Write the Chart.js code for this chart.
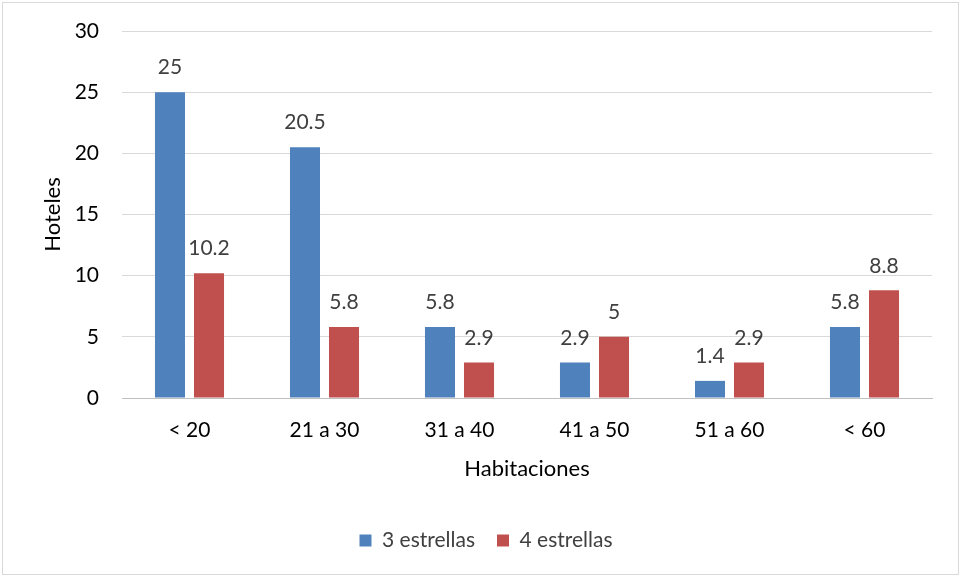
<!DOCTYPE html>
<html>
<head>
<meta charset="utf-8">
<script src="https://cdn.jsdelivr.net/npm/chart.js@4/dist/chart.umd.min.js"></script>
<style>
  html, body { margin: 0; padding: 0; background: #fff; }
  #wrap { position: relative; width: 962px; height: 577px; }
  #frame { position: absolute; left: 2px; top: 2px; width: 955px; height: 571px; border: 1px solid #d9d9d9; pointer-events: none; }
  canvas { position: absolute; left: 0; top: 0; }
</style>
</head>
<body>
<div id="wrap">
  <canvas id="c" width="962" height="577"></canvas>
  <div id="frame"></div>
</div>
<script>
const categories = ['< 20', '21 a 30', '31 a 40', '41 a 50', '51 a 60', '< 60'];
const tresEstrellas = [25, 20.5, 5.8, 2.9, 1.4, 5.8];
const cuatroEstrellas = [10.2, 5.8, 2.9, 5, 2.9, 8.8];
const seriesNames = ['3 estrellas', '4 estrellas'];
const yTicks = [0, 5, 10, 15, 20, 25, 30];

const FONT = 'Lato, "Liberation Sans", sans-serif';

// value labels above each bar
const barValues = {
  id: 'barValues',
  afterDatasetsDraw(chart) {
    const ctx = chart.ctx;
    ctx.save();
    ctx.font = '21px ' + FONT;
    ctx.fillStyle = '#404040';
    ctx.textAlign = 'center';
    ctx.textBaseline = 'bottom';
    chart.data.datasets.forEach((ds, i) => {
      chart.getDatasetMeta(i).data.forEach((bar, j) => {
        ctx.fillText(String(ds.data[j]), bar.x, bar.y - 14);
      });
    });
    ctx.restore();
  }
};

new Chart(document.getElementById('c'), {
  type: 'bar',
  data: {
    labels: categories,
    datasets: [
      { label: seriesNames[0], data: tresEstrellas, backgroundColor: '#4f81bd',
        categoryPercentage: 0.578, barPercentage: 0.77 },
      { label: seriesNames[1], data: cuatroEstrellas, backgroundColor: '#c0504d',
        categoryPercentage: 0.578, barPercentage: 0.77 }
    ]
  },
  options: {
    responsive: false,
    animation: false,
    layout: { padding: { left: 40, right: 30, top: 31, bottom: 16 } },
    plugins: {
      title: { display: false },
      tooltip: { enabled: false },
      legend: {
        position: 'bottom',
        labels: {
          font: { family: FONT, size: 21 },
          color: '#404040',
          boxWidth: 12, boxHeight: 12,
          padding: 22
        }
      }
    },
    scales: {
      y: {
        min: 0, max: 30,
        afterBuildTicks(scale) { scale.ticks = yTicks.map(v => ({ value: v })); },
        afterFit(scale) { scale.width = 82; scale.paddingTop = 0; scale.paddingBottom = 0; },
        grid: { color: '#d9d9d9', drawTicks: false },
        border: { display: false },
        ticks: { font: { family: FONT, size: 21 }, color: '#000', padding: 23 },
        title: { display: true, text: 'Hoteles', font: { family: FONT, size: 22 }, color: '#000', padding: 0 }
      },
      x: {
        afterFit(scale) { scale.height = 110; },
        grid: { display: false, drawTicks: false },
        border: { display: true, color: '#bfbfbf', width: 1 },
        ticks: { font: { family: FONT, size: 21 }, color: '#000', padding: 20 },
        title: { display: true, text: 'Habitaciones', font: { family: FONT, size: 22 }, color: '#000', padding: { top: 0, bottom: 26 } }
      }
    }
  },
  plugins: [barValues]
});
</script>
</body>
</html>
